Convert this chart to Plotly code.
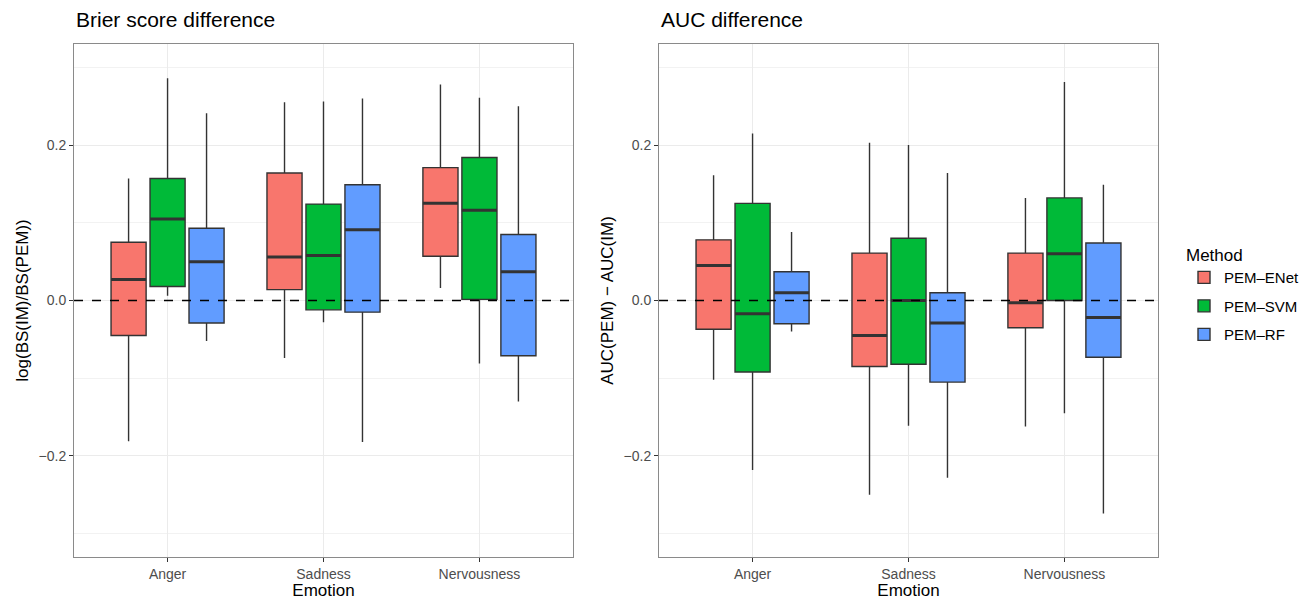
import plotly.graph_objects as go

emotions = ["Anger", "Sadness", "Nervousness"]
methods = ["PEM–ENet", "PEM–SVM", "PEM–RF"]
colors = ["#F8766D", "#00BA38", "#619CFF"]

# Brier score difference: per method, values for [Anger, Sadness, Nervousness]
bs_low = {"PEM–ENet": [-0.181, -0.074, 0.016],
          "PEM–SVM": [0.006, -0.028, -0.081],
          "PEM–RF": [-0.052, -0.182, -0.130]}
bs_q1 = {"PEM–ENet": [-0.045, 0.014, 0.057],
         "PEM–SVM": [0.018, -0.012, 0.0015],
         "PEM–RF": [-0.029, -0.015, -0.071]}
bs_med = {"PEM–ENet": [0.027, 0.056, 0.125],
          "PEM–SVM": [0.105, 0.058, 0.116],
          "PEM–RF": [0.050, 0.091, 0.037]}
bs_q3 = {"PEM–ENet": [0.075, 0.164, 0.171],
         "PEM–SVM": [0.157, 0.124, 0.184],
         "PEM–RF": [0.093, 0.149, 0.085]}
bs_high = {"PEM–ENet": [0.157, 0.255, 0.278],
           "PEM–SVM": [0.286, 0.256, 0.261],
           "PEM–RF": [0.241, 0.260, 0.250]}

# AUC difference
auc_low = {"PEM–ENet": [-0.102, -0.250, -0.162],
           "PEM–SVM": [-0.218, -0.161, -0.145],
           "PEM–RF": [-0.040, -0.228, -0.274]}
auc_q1 = {"PEM–ENet": [-0.037, -0.085, -0.035],
          "PEM–SVM": [-0.092, -0.082, 0.0],
          "PEM–RF": [-0.030, -0.105, -0.073]}
auc_med = {"PEM–ENet": [0.045, -0.045, -0.003],
           "PEM–SVM": [-0.017, 0.0, 0.060],
           "PEM–RF": [0.010, -0.029, -0.022]}
auc_q3 = {"PEM–ENet": [0.078, 0.061, 0.061],
          "PEM–SVM": [0.125, 0.080, 0.132],
          "PEM–RF": [0.037, 0.010, 0.074]}
auc_high = {"PEM–ENet": [0.161, 0.203, 0.132],
            "PEM–SVM": [0.215, 0.200, 0.281],
            "PEM–RF": [0.088, 0.164, 0.149]}

FONT = "Liberation Sans, Arial, Helvetica, sans-serif"
fig = go.Figure()

panels = [
    (bs_low, bs_q1, bs_med, bs_q3, bs_high, "x", "y", True),
    (auc_low, auc_q1, auc_med, auc_q3, auc_high, "x2", "y2", False),
]
for low, q1, med, q3, high, xa, ya, showleg in panels:
    for m, c in zip(methods, colors):
        fig.add_trace(go.Box(
            x=emotions, lowerfence=low[m], q1=q1[m], median=med[m],
            q3=q3[m], upperfence=high[m],
            name=m, legendgroup=m, showlegend=showleg,
            fillcolor=c, line=dict(color="#333333", width=1.4),
            whiskerwidth=0, boxpoints=False, offsetgroup=m,
            xaxis=xa, yaxis=ya, hoverinfo="skip",
        ))
    # thick median bars (ggplot-style), drawn as degenerate boxes in the same slot
    for m in methods:
        fig.add_trace(go.Box(
            x=emotions, lowerfence=med[m], q1=med[m], median=med[m],
            q3=med[m], upperfence=med[m],
            name=m, legendgroup=m, showlegend=False,
            fillcolor="rgba(0,0,0,0)", line=dict(color="#333333", width=3),
            whiskerwidth=0, boxpoints=False, offsetgroup=m,
            xaxis=xa, yaxis=ya, hoverinfo="skip",
        ))

axis_common = dict(
    showline=True, mirror=True, linecolor="#8a8a8a", linewidth=1,
    showgrid=True, gridcolor="#EBEBEB", gridwidth=1,
    ticks="outside", ticklen=4, tickcolor="#333333",
    tickfont=dict(family=FONT, size=14, color="#4D4D4D"),
    zeroline=False,
)
yax = dict(axis_common, range=[-0.33, 0.33], tickvals=[-0.2, 0.0, 0.2],
           tickformat=".1f",
           minor=dict(tickvals=[-0.3, -0.1, 0.1, 0.3], showgrid=True,
                      gridcolor="#F2F2F2", gridwidth=1, ticks=""))
xax = dict(axis_common, range=[-0.6, 2.6], type="category",
           title=dict(text="Emotion", font=dict(family=FONT, size=17, color="#000"),
                      standoff=5))

fig.update_layout(
    width=1311, height=600,
    margin=dict(l=0, r=0, t=0, b=0),
    paper_bgcolor="white", plot_bgcolor="white",
    boxmode="group", boxgap=0.25, boxgroupgap=0.1,
    font=dict(family=FONT),
    xaxis=dict(xax, domain=[74 / 1311, 573 / 1311], anchor="y"),
    xaxis2=dict(xax, domain=[659 / 1311, 1158 / 1311], anchor="y2"),
    yaxis=dict(yax, domain=[43 / 600, 556 / 600], anchor="x",
               title=dict(text="log(BS(IM)/BS(PEM))",
                          font=dict(family=FONT, size=17, color="#000"), standoff=5)),
    yaxis2=dict(yax, domain=[43 / 600, 556 / 600], anchor="x2",
                title=dict(text="AUC(PEM) − AUC(IM)",
                           font=dict(family=FONT, size=17, color="#000"), standoff=5)),
    legend=dict(
        title=dict(text="Method", font=dict(family=FONT, size=17, color="#000")),
        font=dict(family=FONT, size=15, color="#000"),
        x=1184 / 1311, y=1 - 239 / 600, xanchor="left", yanchor="top",
        tracegroupgap=6, itemwidth=30,
    ),
    annotations=[
        dict(text="Brier score difference", x=74 / 1311, y=1 - 20 / 600,
             xref="paper", yref="paper", xanchor="left", yanchor="middle",
             showarrow=False, font=dict(family=FONT, size=21, color="#000")),
        dict(text="AUC difference", x=659 / 1311, y=1 - 20 / 600,
             xref="paper", yref="paper", xanchor="left", yanchor="middle",
             showarrow=False, font=dict(family=FONT, size=21, color="#000")),
    ],
)

for ya, xa in [("y", "x"), ("y2", "x2")]:
    fig.add_shape(type="line", xref=f"{xa} domain", yref=ya, x0=0, x1=1, y0=0, y1=0,
                  line=dict(color="black", width=1.6, dash="dash"), layer="above")

fig.write_html("out.html", config={"displayModeBar": False},
               post_script="document.body.style.margin='0';document.body.style.overflow='hidden';")
